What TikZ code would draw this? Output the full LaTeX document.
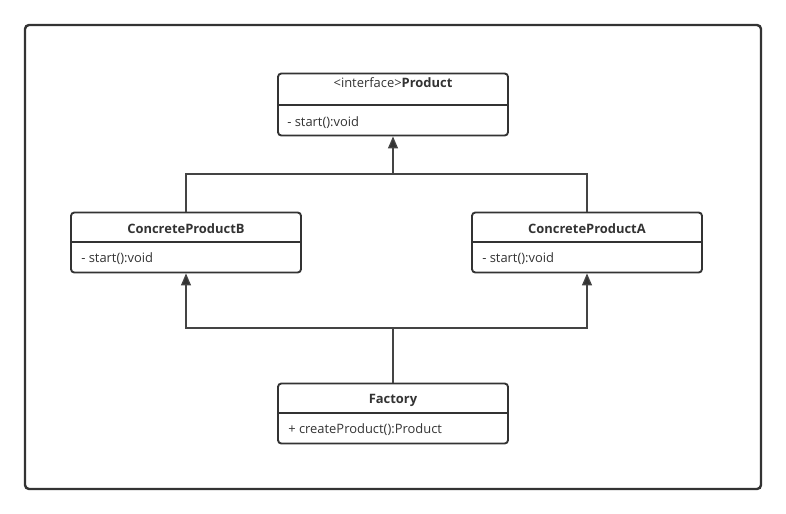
\documentclass[tikz,border=0pt]{standalone}
\usepackage{fontspec}
\setmainfont{Open Sans}
\usetikzlibrary{arrows.meta}
\definecolor{inkdark}{HTML}{333333}
\definecolor{inkline}{HTML}{444444}
\begin{document}
\begin{tikzpicture}[x=0.75pt, y=-0.75pt, font=\fontsize{9.7}{11.5}\selectfont]
    \tikzstyle{classbox}=[draw=inkdark, line width=1.4pt, rounded corners=2.5pt, minimum width=172.5pt, inner sep=0pt]
    \tikzstyle{divider}=[draw=inkdark, line width=1.4pt]
    \tikzstyle{member}=[anchor=west, inner sep=0pt, text=inkdark]
    \tikzstyle{heading}=[inner sep=0pt, text=inkdark]
    \tikzstyle{marrs}=[draw=inkline, line width=0.9pt, -{Triangle[width=7.5pt, length=9pt, fill=inkdark]}]
    \tikzstyle{links}=[draw=inkline, line width=0.9pt]

    \useasboundingbox (0, 0) rectangle (786, 514);
    \draw[draw=inkdark, line width=1.8pt, rounded corners=3pt] (25, 25) rectangle (761, 489);

    % class boxes
    \node[classbox, minimum height=46.5pt] (product) at (393, 104.5) {};
    \foreach \nm/\cx/\cy in {cpb/186/242.5, cpa/587/242.5, factory/393/413.5} {
        \node[classbox, minimum height=45pt] (\nm) at (\cx, \cy) {};
    }
    \draw[divider] ([yshift=-24pt]product.north west) -- ([yshift=-24pt]product.north east);
    \foreach \nm in {cpb, cpa, factory} {
        \draw[divider] ([yshift=-22.5pt]\nm.north west) -- ([yshift=-22.5pt]\nm.north east);
    }

    % names and members
    \node[heading] (productname) at (393, 83) {\textless interface\textgreater\textbf{Product}};
    \node[heading] (cpbname) at (186, 229) {\textbf{ConcreteProductB}};
    \node[heading] (cpaname) at (587, 229) {\textbf{ConcreteProductA}};
    \node[heading] (factoryname) at (393, 400) {\textbf{Factory}};
    \node[member] (productop) at (287, 123) {- start():void};
    \node[member] (cpbop) at (81, 259) {- start():void};
    \node[member] (cpaop) at (482, 259) {- start():void};
    \node[member] (factoryop) at (288, 430) {+ createProduct():Product};

    % generalisation links
    \coordinate (highbus) at (393, 174);
    \coordinate (lowbus) at (393, 328);
    \draw[links] (cpb.north) |- (highbus);
    \draw[links] (cpa.north) |- (highbus);
    \draw[marrs] (highbus) -- (product.south);
    \draw[links] (factory.north) -- (lowbus);
    \draw[marrs] (lowbus) -| (cpb.south);
    \draw[marrs] (lowbus) -| (cpa.south);

\end{tikzpicture}
\end{document}
